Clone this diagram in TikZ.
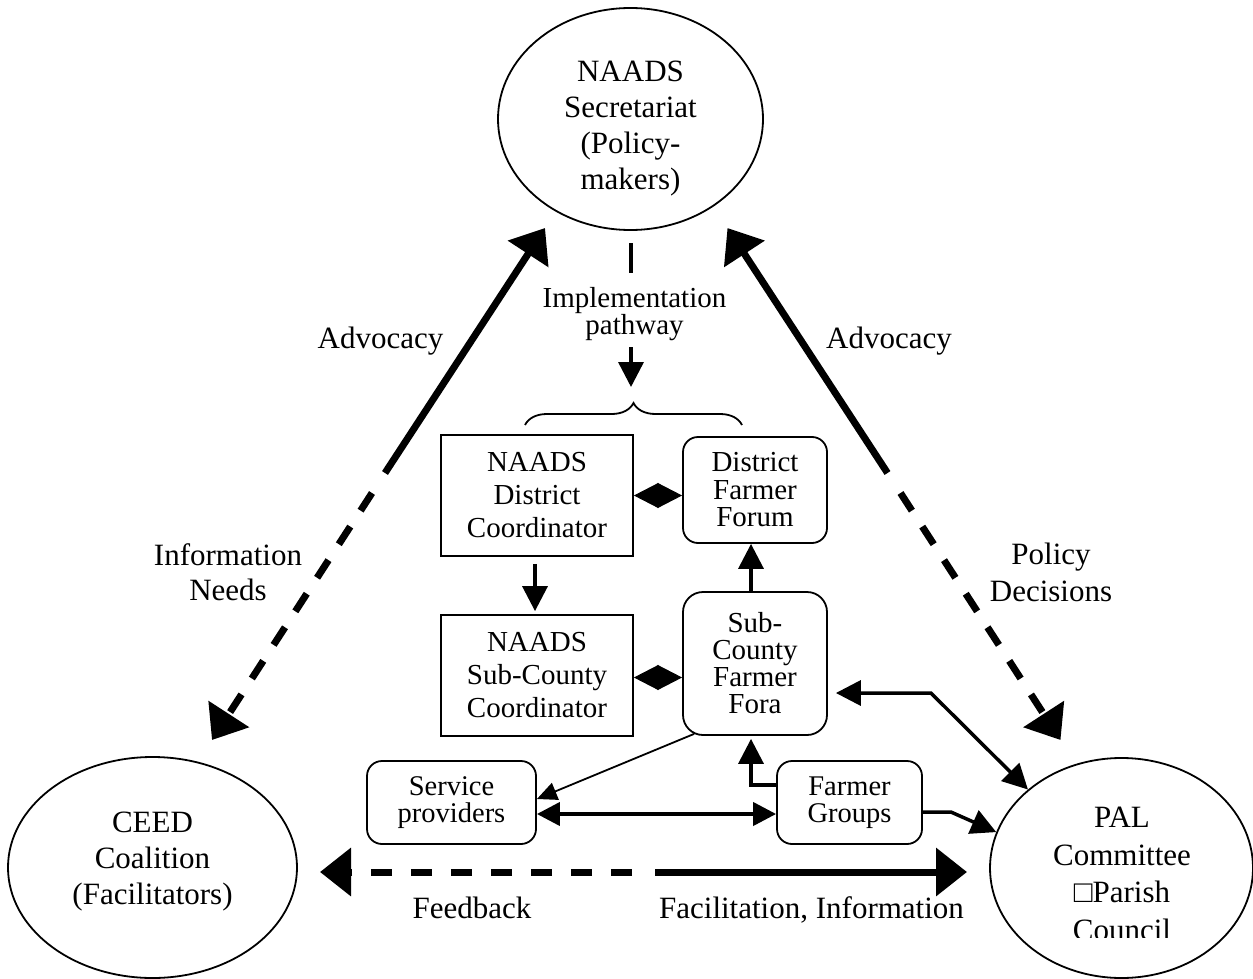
\documentclass[tikz,border=0pt]{standalone}
\usepackage{fontspec}
\setmainfont{Liberation Serif}
\usetikzlibrary{arrows.meta,shapes.geometric,decorations.pathreplacing,calc}
\begin{document}
\begin{tikzpicture}[x=1pt,y=-1pt,
  bigf/.style={font=\fontsize{31}{36}\selectfont},
  ell/.style={draw, ellipse, line width=1.8pt, inner sep=0pt},
  box/.style={draw, rectangle, line width=1.8pt, align=center, inner sep=0pt,
    font=\fontsize{29}{33}\selectfont, minimum width=192pt, minimum height=121pt},
  rbox/.style={draw, rectangle, rounded corners=15pt, line width=1.8pt, align=center, inner sep=0pt},
  bigarr/.style={line width=7pt, -{Triangle[length=31pt,width=47pt]}},
  dashpat/.style={dash pattern=on 21pt off 19pt},
  medarr/.style={line width=3.5pt, -{Triangle[length=25pt,width=25pt]}},
  dblarr/.style={line width=4pt, {Triangle[length=23pt,width=23pt]}-{Triangle[length=23pt,width=23pt]}},
  thinarr/.style={line width=1.8pt, -{Triangle[length=20pt,width=18pt]}},
  diam/.style={line width=1pt, {Triangle[length=24.5pt,width=25pt]}-{Triangle[length=24.5pt,width=25pt]}}
]
\useasboundingbox (0,0) rectangle (1253,979);

% ellipses
\node[ell, minimum width=265pt, minimum height=222pt] (sec) at (630.5,119) {};
\node[bigf, align=center] (sectext) at (630.5,129) {NAADS\\Secretariat\\(Policy-\\makers)};
\node[ell, minimum width=289pt, minimum height=221pt] (ceed) at (152.5,867.5) {};
\node[bigf, align=center] (ceedtext) at (152.5,862) {CEED\\Coalition\\(Facilitators)};
\node[ell, minimum width=263pt, minimum height=220pt] (pal) at (1121.5,868) {};
\begin{scope}
\clip (990,740) rectangle (1253,937);
\node[font=\fontsize{31}{37.5}\selectfont, align=center] (paltext) at (1122,874) {PAL\\Committee\\□Parish\\Council};
\end{scope}

% boxes
\node[box] (ndc) at (537,495.5) {NAADS\\District\\Coordinator};
\node[box] (nsc) at (537,675.5) {NAADS\\Sub-County\\Coordinator};
\node[rbox, font=\fontsize{29}{27.5}\selectfont, minimum width=144pt, minimum height=106pt] (dff) at (755,490) {District\\Farmer\\Forum};
\node[rbox, rounded corners=20pt, font=\fontsize{29}{27}\selectfont, minimum width=144pt, minimum height=143pt] (scff) at (755,663.5) {Sub-\\County\\Farmer\\Fora};
\node[rbox, font=\fontsize{28.5}{27}\selectfont, minimum width=169pt, minimum height=83pt] (sp) at (451.5,802.5) {Service\\providers};
\node[rbox, font=\fontsize{28.5}{26.5}\selectfont, minimum width=145pt, minimum height=83pt] (fg) at (849.5,802.5) {Farmer\\Groups};

% labels
\node[bigf, anchor=base] (advl) at (380.5,348) {Advocacy};
\node[bigf, anchor=base] (advr) at (889,348) {Advocacy};
\node[font=\fontsize{31}{35}\selectfont, align=center] (infn) at (228,572) {Information\\Needs};
\node[font=\fontsize{31}{37}\selectfont, align=center] (pold) at (1051,572) {Policy\\Decisions};
\node[bigf, anchor=base] (fb) at (472,918) {Feedback};
\node[bigf, anchor=base] (fi) at (811.5,918) {Facilitation, Information};
\node[font=\fontsize{29}{26}\selectfont, align=center] (impl) at (634.5,314) {Implementation\\pathway};

% big arrows
\coordinate (lt) at (545,228);
\coordinate (lb) at (212,740);
\coordinate (ls) at (385,473);
\coordinate (ld) at (372,493);
\coordinate (rt) at (727.5,228);
\coordinate (rb) at (1060.5,740);
\coordinate (rs) at (887.5,473);
\coordinate (rd) at (900.5,493);
\coordinate (hl) at (320,872);
\coordinate (hr) at (967,872);
\coordinate (hd) at (632,872);
\coordinate (hs) at (655,872);
\draw[bigarr] (ls) -- (lt);
\draw[bigarr, dashpat] (ld) -- (lb);
\draw[bigarr] (rs) -- (rt);
\draw[bigarr, dashpat] (rd) -- (rb);
\draw[bigarr, dashpat] (hd) -- (hl);
\draw[bigarr] (hs) -- (hr);

% implementation pathway
\coordinate (i1) at (631,243);
\coordinate (i2) at (631,273);
\coordinate (i3) at (631,347);
\coordinate (i4) at (631,387);
\draw[line width=3.5pt] (i1) -- (i2);
\draw[medarr] (i3) -- (i4);
\draw[line width=1.8pt, decorate, decoration={brace, amplitude=22pt}] (525,425) -- (742,425);

% inner connectors
\draw[medarr] ([xshift=-2pt,yshift=-7pt]ndc.south) -- ([xshift=-2pt,yshift=3pt]nsc.north);
\draw[medarr] ([xshift=-4pt]scff.north) -- ([xshift=-4pt]dff.south);
\draw[diam] (ndc.east) -- (ndc.east -| dff.west);
\draw[diam] ([yshift=-2pt]nsc.east) -- ([yshift=-2pt]nsc.east -| scff.west);
\draw[dblarr] ([yshift=-11.5pt]sp.east) -- ([yshift=-11.5pt]fg.west);
\draw[thinarr] ([xshift=12pt,yshift=2pt]scff.south west) -- ([yshift=3.5pt]sp.east);
\draw[medarr] ([yshift=17.5pt]fg.west) -| ([xshift=-4pt,yshift=-3pt]scff.south);
\draw[medarr] ([yshift=-9.5pt]fg.east) -- ++(28,0) -- (pal.164.7);
\draw[medarr, {Triangle[length=25pt,width=25pt]}-{Triangle[length=25pt,width=25pt]}] ([xshift=8pt,yshift=-29.5pt]scff.east) -- ++(95,0) -- (pal.140);
\end{tikzpicture}
\end{document}
